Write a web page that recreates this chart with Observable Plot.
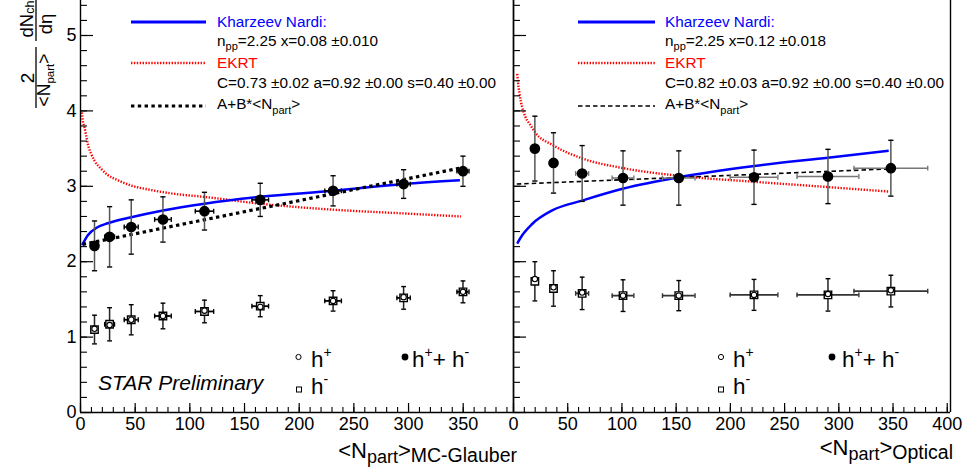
<!DOCTYPE html>
<html><head><meta charset="utf-8">
<script src="https://cdn.jsdelivr.net/npm/d3@7"></script>
<script src="https://cdn.jsdelivr.net/npm/@observablehq/plot@0.6"></script>
<style>
body{margin:0;background:#fff;}
#wrap{position:relative;width:971px;height:473px;overflow:hidden;background:#fff;font-family:'Liberation Sans',Arial,Helvetica,sans-serif;}
#wrap svg{position:absolute;left:0;top:0;}
</style></head><body><div id="wrap"></div>
<script>
// ---------- Data: left panel, <Npart> MC-Glauber ----------
const npartGlauber    = [12.8, 26.6, 46.4, 75.4, 113.4, 164.4, 231, 295.5, 349.8];
const npartErrGlauber = [2, 4.5, 6.4, 7.6, 8.4, 7.6, 7.6, 6.1, 5.5];
const sumGlauber      = [2.21, 2.33, 2.46, 2.56, 2.67, 2.82, 2.94, 3.03, 3.20];
const sumErrGlauber   = [0.33, 0.40, 0.36, 0.30, 0.25, 0.22, 0.20, 0.19, 0.20];
const hMinusGlauber   = [1.10, 1.17, 1.23, 1.28, 1.34, 1.41, 1.48, 1.52, 1.60];
const hMinusErrGlauber= [0.19, 0.22, 0.20, 0.17, 0.15, 0.14, 0.135, 0.15, 0.145];
const hPlusGlauber    = [1.11, 1.16, 1.23, 1.28, 1.35, 1.40, 1.48, 1.53, 1.60];

const knGlauberX   = [1.5, 6.7, 15.9, 25, 46.4, 75.4, 113.4, 164.4, 231, 295.5, 347];
const knGlauberY   = [2.22, 2.35, 2.46, 2.51, 2.59, 2.68, 2.77, 2.86, 2.94, 3.03, 3.08];
const ekrtGlauberX = [1.2, 2.1, 3.7, 5.2, 6.7, 9.8, 12.8, 19, 25, 34.2, 46.4, 64.8, 86, 113, 164, 231, 296, 348];
const ekrtGlauberY = [3.98, 3.87, 3.78, 3.67, 3.56, 3.43, 3.34, 3.23, 3.15, 3.08, 3.01, 2.95, 2.90, 2.86, 2.77, 2.69, 2.64, 2.60];
const fitGlauberX  = [2, 350];
const fitGlauberY  = [2.23, 3.25];

// ---------- Data: right panel, <Npart> Optical ----------
const npartOptical    = [19.7, 36.9, 63.3, 101, 152.4, 221.8, 290, 348];
const npartErrOptical = [2, 3, 6, 10, 15, 22, 28.5, 34];
const sumOptical      = [3.50, 3.31, 3.17, 3.11, 3.11, 3.12, 3.13, 3.24];
const sumErrOptical   = [0.43, 0.40, 0.37, 0.36, 0.36, 0.36, 0.36, 0.37];
const hMinusOptical   = [1.74, 1.645, 1.58, 1.55, 1.55, 1.56, 1.56, 1.61];
const hMinusErrOptical= [0.26, 0.235, 0.215, 0.21, 0.20, 0.205, 0.215, 0.21];
const hPlusOptical    = [1.77, 1.66, 1.59, 1.55, 1.55, 1.56, 1.57, 1.62];

const knOpticalX   = [3.4, 8, 17.2, 35.7, 63.3, 101.5, 152, 222, 290, 346];
const knOpticalY   = [2.24, 2.35, 2.50, 2.68, 2.81, 2.97, 3.12, 3.27, 3.38, 3.47];
const ekrtOpticalX = [3.4, 4.3, 5.5, 8, 11, 15.7, 19.7, 37, 63.3, 101.5, 152, 222, 290, 346];
const ekrtOpticalY = [4.49, 4.36, 4.23, 4.05, 3.92, 3.81, 3.72, 3.54, 3.37, 3.24, 3.14, 3.06, 2.99, 2.93];
const fitOpticalX  = [3, 346];
const fitOpticalY  = [3.03, 3.23];

// ---------- Tick labels ----------
const xTicksGlauber = [0, 50, 100, 150, 200, 250, 300, 350];
const xTicksOptical = [0, 50, 100, 150, 200, 250, 300, 350, 400];
const yTicks = [0, 1, 2, 3, 4, 5];

// ---------- helpers ----------
const zip = (xs, ys) => xs.map((x, i) => ({x, y: ys[i]}));
const capH = {draw(ctx, size) { const r = Math.sqrt(size / Math.PI); ctx.moveTo(-r, 0); ctx.lineTo(r, 0); }};
const capV = {draw(ctx, size) { const r = Math.sqrt(size / Math.PI); ctx.moveTo(0, -r); ctx.lineTo(0, r); }};
const FONT = "'Liberation Sans', Arial, Helvetica, sans-serif";
const H = 473, MB = 61, YMAX = 412 / 75.4;
const RED_DASH = "1.4 1.5";

function panel({width, ml, mr, xMax, xLabels, showY, rows, kn, ekrt, fit, fitStyle, hBarSum, hBarH}) {
  const frameH = H - MB, frameW = width - ml - mr;
  const k = (v) => v;
  const marks = [
    // curves
    Plot.line(ekrt, {x: "x", y: "y", stroke: "#ff0000", strokeWidth: 2.4, strokeDasharray: RED_DASH, strokeLinecap: "butt", curve: "monotone-x"}),
    Plot.line(kn, {x: "x", y: "y", stroke: "#0000ff", strokeWidth: 2.5, strokeLinecap: "butt", curve: "monotone-x"}),
    Plot.line(fit, {x: "x", y: "y", stroke: "black", strokeLinecap: "butt", ...fitStyle}),
    // h+ + h- error bars
    Plot.ruleX(rows, {x: "x", y1: d => d.sum - d.es, y2: d => d.sum + d.es, stroke: "#555", strokeWidth: 1.5}),
    Plot.dot(rows, {x: "x", y: d => d.sum + d.es, symbol: capH, r: 2.6, stroke: "black", strokeWidth: 1.4, fill: "none"}),
    Plot.dot(rows, {x: "x", y: d => d.sum - d.es, symbol: capH, r: 2.6, stroke: "black", strokeWidth: 1.4, fill: "none"}),
    Plot.ruleY(rows, {y: "sum", x1: d => d.x - d.ex, x2: d => d.x + d.ex, stroke: hBarSum, strokeWidth: 1.6}),
    Plot.dot(rows, {x: d => d.x - d.ex, y: "sum", symbol: capV, r: 2.4, stroke: hBarSum, strokeWidth: 1.4, fill: "none"}),
    Plot.dot(rows, {x: d => d.x + d.ex, y: "sum", symbol: capV, r: 2.4, stroke: hBarSum, strokeWidth: 1.4, fill: "none"}),
    // h- error bars
    Plot.ruleX(rows, {x: "x", y1: d => d.hm - d.em, y2: d => d.hm + d.em, stroke: "#222", strokeWidth: 1.5}),
    Plot.dot(rows, {x: "x", y: d => d.hm + d.em, symbol: capH, r: 2.4, stroke: "black", strokeWidth: 1.4, fill: "none"}),
    Plot.dot(rows, {x: "x", y: d => d.hm - d.em, symbol: capH, r: 2.4, stroke: "black", strokeWidth: 1.4, fill: "none"}),
    Plot.ruleY(rows, {y: "hm", x1: d => d.x - d.ex, x2: d => d.x + d.ex, stroke: hBarH, strokeWidth: 1.8}),
    Plot.dot(rows, {x: d => d.x - d.ex, y: "hm", symbol: capV, r: 2.4, stroke: hBarH, strokeWidth: 1.4, fill: "none"}),
    Plot.dot(rows, {x: d => d.x + d.ex, y: "hm", symbol: capV, r: 2.4, stroke: hBarH, strokeWidth: 1.4, fill: "none"}),
    // markers
    Plot.dot(rows, {x: "x", y: "sum", r: 4.6, fill: "black", stroke: "black"}),
    Plot.dot(rows, {x: "x", y: "hm", symbol: "square", r: 4.2, fill: "white", stroke: "black", strokeWidth: 1.4}),
    Plot.dot(rows, {x: "x", y: "hp", symbol: "circle", r: 2.7, fill: "white", stroke: "black", strokeWidth: 1.1}),
    // axes frame lines
    Plot.ruleY([0], {stroke: "black", strokeWidth: 1.4}),
    Plot.ruleX([0, xMax], {stroke: "black", strokeWidth: 1.4}),
    // inward ticks
    Plot.tickX(d3.range(0, xMax + 0.01, 10), {x: k, insetTop: frameH - 5, stroke: "black", strokeWidth: 1.1}),
    Plot.tickX(d3.range(0, xMax + 0.01, 50), {x: k, insetTop: frameH - 9, stroke: "black", strokeWidth: 1.2}),
    Plot.tickY(d3.range(0, YMAX, 0.2), {y: k, insetRight: frameW - 7, stroke: "black", strokeWidth: 1.1}),
    Plot.tickY(yTicks, {y: k, insetRight: frameW - 13, stroke: "black", strokeWidth: 1.2}),
    Plot.axisX({ticks: xLabels, tickSize: 0, tickPadding: 5, fontSize: 18, label: null, fill: "black", tickFormat: "d"})
  ];
  if (showY) marks.push(Plot.axisY({ticks: yTicks, tickSize: 0, tickPadding: 4, fontSize: 18, label: null, fill: "black", tickFormat: "d"}));
  return Plot.plot({
    width, height: H,
    marginLeft: ml, marginRight: mr, marginTop: 0, marginBottom: MB,
    x: {domain: [0, xMax]},
    y: {domain: [0, YMAX], axis: showY ? undefined : null},
    style: {background: "transparent", fontFamily: FONT, overflow: "visible"},
    marks
  });
}

const rowsG = npartGlauber.map((x, i) => ({x, ex: npartErrGlauber[i], sum: sumGlauber[i], es: sumErrGlauber[i], hm: hMinusGlauber[i], em: hMinusErrGlauber[i], hp: hPlusGlauber[i]}));
const rowsO = npartOptical.map((x, i) => ({x, ex: npartErrOptical[i], sum: sumOptical[i], es: sumErrOptical[i], hm: hMinusOptical[i], em: hMinusErrOptical[i], hp: hPlusOptical[i]}));

const wrap = document.getElementById("wrap");
wrap.appendChild(panel({
  width: 520, ml: 80, mr: 7, xMax: 396, xLabels: xTicksGlauber, showY: true, rows: rowsG,
  kn: zip(knGlauberX, knGlauberY), ekrt: zip(ekrtGlauberX, ekrtGlauberY), fit: zip(fitGlauberX, fitGlauberY),
  fitStyle: {strokeWidth: 3.2, strokeDasharray: "3.4 3.4"}, hBarSum: "black", hBarH: "black"
}));
wrap.appendChild(panel({
  width: 971, ml: 513, mr: 21, xMax: 403, xLabels: xTicksOptical, showY: false, rows: rowsO,
  kn: zip(knOpticalX, knOpticalY), ekrt: zip(ekrtOpticalX, ekrtOpticalY), fit: zip(fitOpticalX, fitOpticalY),
  fitStyle: {strokeWidth: 1.6, strokeDasharray: "4.5 3"}, hBarSum: "#777", hBarH: "#333"
}));

// ---------- Titles and legends ----------
const ns = "http://www.w3.org/2000/svg";
const overlay = `
<svg xmlns="${ns}" width="971" height="473" font-family="${FONT}" style="pointer-events:none">
  <g transform="rotate(-90)" fill="black">
    <text x="-19" y="33" text-anchor="middle" font-size="18.5">dN<tspan font-size="12.5" dy="1">ch</tspan></text>
    <line x1="-41" x2="0" y1="36" y2="36" stroke="black" stroke-width="1.3"/>
    <text x="-24" y="52" text-anchor="middle" font-size="18.5">dη</text>
    <text x="-78" y="34" text-anchor="middle" font-size="19">2</text>
    <line x1="-108" x2="-47" y1="36" y2="36" stroke="black" stroke-width="1.3"/>
    <text x="-80" y="50" text-anchor="middle" font-size="17.5">&lt;N<tspan font-size="11.5" dy="4">part</tspan><tspan dy="-4">&gt;</tspan></text>
  </g>

  <g font-size="15.3" fill="black">
    <line x1="131" x2="206" y1="22" y2="22" stroke="#0000ff" stroke-width="3"/>
    <text x="217" y="27" fill="#0000ff">Kharzeev Nardi:</text>
    <text x="217" y="46">n<tspan font-size="11" dy="4">pp</tspan><tspan dy="-4">=2.25 x=0.08 ±0.010</tspan></text>
    <line x1="131" x2="206" y1="63" y2="63" stroke="#ff0000" stroke-width="2.4" stroke-dasharray="${RED_DASH}"/>
    <text x="217" y="68" fill="#ff0000">EKRT</text>
    <text x="217" y="87.5">C=0.73 ±0.02 a=0.92 ±0.00 s=0.40 ±0.00</text>
    <line x1="131" x2="206" y1="106" y2="106" stroke="black" stroke-width="3.2" stroke-dasharray="3.4 3.4"/>
    <text x="217" y="108.5">A+B*&lt;N<tspan font-size="11" dy="5">part</tspan><tspan dy="-5">&gt;</tspan></text>

    <line x1="578" x2="655" y1="22" y2="22" stroke="#0000ff" stroke-width="3"/>
    <text x="665" y="27" fill="#0000ff">Kharzeev Nardi:</text>
    <text x="665" y="46">n<tspan font-size="11" dy="4">pp</tspan><tspan dy="-4">=2.25 x=0.12 ±0.018</tspan></text>
    <line x1="578" x2="655" y1="63" y2="63" stroke="#ff0000" stroke-width="2.4" stroke-dasharray="${RED_DASH}"/>
    <text x="665" y="68" fill="#ff0000">EKRT</text>
    <text x="665" y="87.5">C=0.82 ±0.03 a=0.92 ±0.00 s=0.40 ±0.00</text>
    <line x1="578" x2="655" y1="106" y2="106" stroke="black" stroke-width="1.6" stroke-dasharray="4.5 3"/>
    <text x="665" y="108.5">A+B*&lt;N<tspan font-size="11" dy="5">part</tspan><tspan dy="-5">&gt;</tspan></text>
  </g>

  <g font-size="22.5" fill="black">
    <circle cx="298.5" cy="357" r="2.6" fill="white" stroke="black" stroke-width="1"/>
    <text x="311" y="367">h<tspan font-size="14" dy="-10">+</tspan></text>
    <circle cx="405" cy="357" r="3.4" fill="black"/>
    <text x="412" y="367">h<tspan font-size="14" dy="-10">+</tspan><tspan dy="10">+ h</tspan><tspan font-size="14" dy="-10">-</tspan></text>
    <rect x="296.5" y="387" width="5" height="5" fill="white" stroke="black" stroke-width="1"/>
    <text x="311" y="394">h<tspan font-size="14" dy="-10">-</tspan></text>
    <text x="98" y="390" font-size="21" font-style="italic">STAR Preliminary</text>

    <circle cx="721" cy="357" r="2.6" fill="white" stroke="black" stroke-width="1"/>
    <text x="733" y="367">h<tspan font-size="14" dy="-10">+</tspan></text>
    <circle cx="832" cy="357" r="3.4" fill="black"/>
    <text x="842" y="367">h<tspan font-size="14" dy="-10">+</tspan><tspan dy="10">+ h</tspan><tspan font-size="14" dy="-10">-</tspan></text>
    <rect x="718.5" y="387" width="5" height="5" fill="white" stroke="black" stroke-width="1"/>
    <text x="733" y="394">h<tspan font-size="14" dy="-10">-</tspan></text>
  </g>

  <g fill="black">
    <text x="517" y="458" text-anchor="end" font-size="22">&lt;N<tspan font-size="18" dy="5">part</tspan><tspan dy="-5">&gt;</tspan><tspan font-size="19.5" dy="4">MC-Glauber</tspan></text>
    <text x="953" y="455" text-anchor="end" font-size="22">&lt;N<tspan font-size="18" dy="5">part</tspan><tspan dy="-5">&gt;</tspan><tspan font-size="19.5" dy="4">Optical</tspan></text>
  </g>
</svg>`;
wrap.insertAdjacentHTML("beforeend", overlay);
</script>
</body></html>
